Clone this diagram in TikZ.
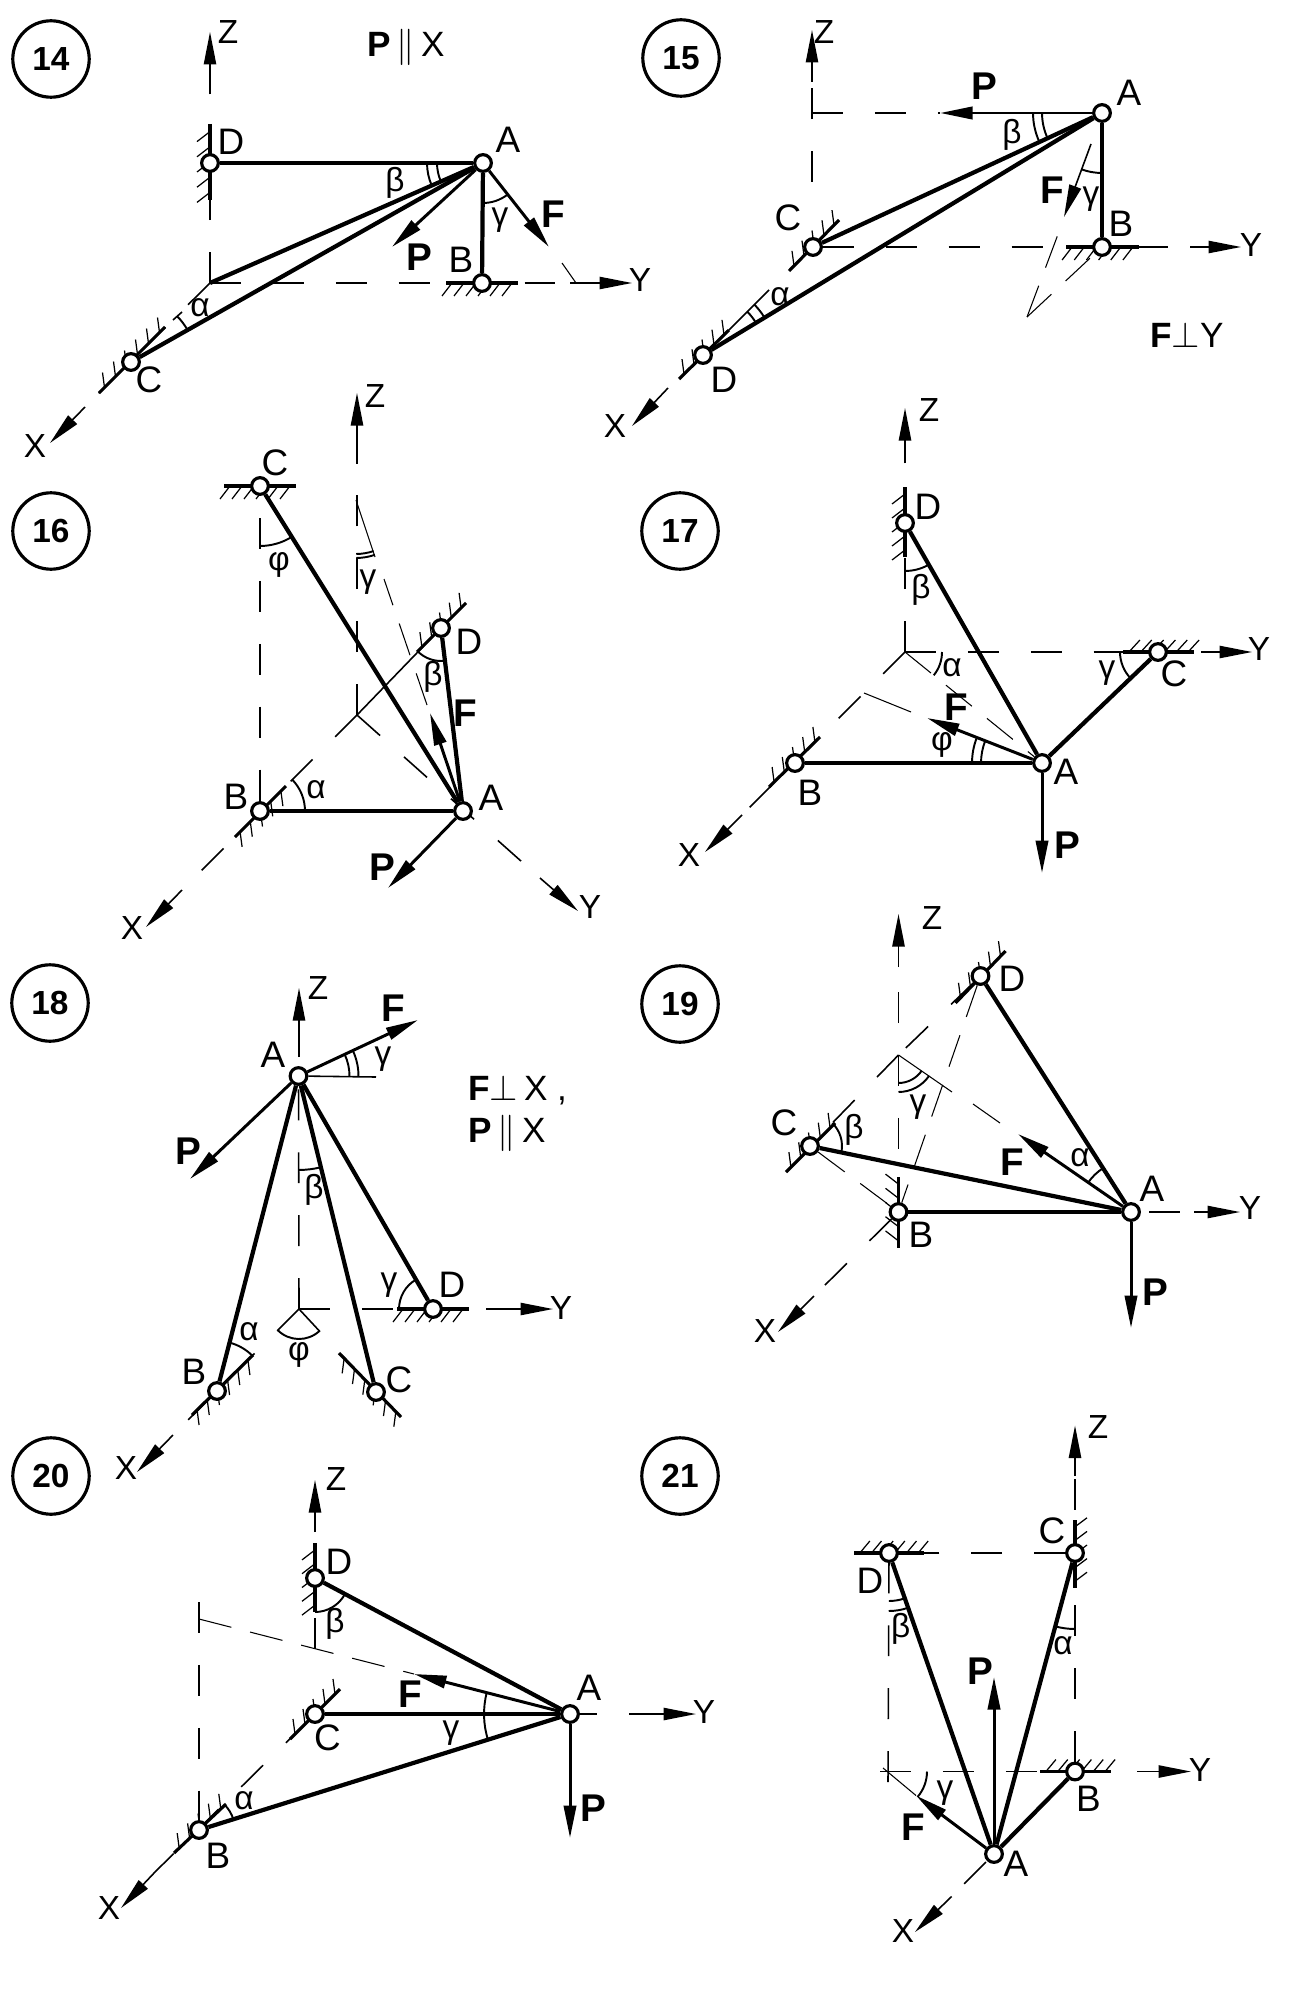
\documentclass[tikz,border=0pt]{standalone}
\usepackage{fontspec}
\setmainfont{Liberation Sans}
\usetikzlibrary{arrows.meta, angles, calc, backgrounds}

% wall at a node: from-offset, to-offset, tick vector, number of ticks
\newcommand{\wallat}[5]{%
  \draw[wall] ($(#1)+(#2)$) coordinate (wa) -- ($(#1)+(#3)$) coordinate (wb);
  \foreach \t in {1,...,#5} {
    \pgfmathsetmacro{\tpos}{(\t-0.5)/#5}
    \draw[tick] ($(wa)!\tpos!(wb)$) -- ++(#4);
  }
}

\begin{document}
\begin{tikzpicture}[
    x=0.02cm, y=-0.02cm,
    num/.style={draw, circle, line width=1.8pt, minimum size=43.5pt, inner sep=0pt, font=\fontsize{19}{19}\selectfont\bfseries},
    pin/.style={draw, circle, fill=white, line width=1.8pt, minimum size=9.5pt, inner sep=0pt},
    strut/.style={line width=2.4pt},
    force/.style={line width=1.7pt, -{Triangle[length=18.5pt,width=7pt]}},
    axistip/.style={line width=0.9pt, -{Triangle[length=18.5pt,width=7pt]}},
    axisdash/.style={line width=0.9pt, dash pattern=on 17.6pt off 18.2pt},
    axisthin/.style={line width=0.9pt},
    helper/.style={line width=0.6pt},
    helperdash/.style={line width=0.6pt, dash pattern=on 19pt off 11pt},
    wall/.style={line width=1.8pt},
    tick/.style={line width=0.7pt},
    ang/.style={draw, line width=1.1pt},
    ar/.style={angle radius=#1*0.569pt},
    lab/.style={inner sep=0pt, font=\fontsize{21}{21}\selectfont},
    axl/.style={inner sep=0pt, font=\fontsize{19}{19}\selectfont},
    frc/.style={inner sep=0pt, font=\fontsize{22}{22}\selectfont\bfseries},
    grk/.style={inner sep=0pt, font=\fontsize{19}{19}\selectfont},
    note/.style={inner sep=0pt, anchor=west, font=\fontsize{20}{20}\selectfont}
]
\useasboundingbox (0,0) rectangle (1297,2000);

% Panel 14
\node[num] (n14) at (51,59) {14};
\node[pin] (a14) at (483,163) {};
\node[pin] (b14) at (482,283) {};
\node[pin] (c14) at (131,362) {};
\node[pin] (d14) at (210,163) {};
\coordinate (o14) at (210,283);
\coordinate (zs14) at (210,93);
\coordinate (zt14) at (210,32);
\coordinate (ys14) at (570,283);
\coordinate (yt14) at (632,283);
\coordinate (xs14) at (85,407);
\coordinate (xt14) at (50,443);
\coordinate (pt14) at (392,247);
\coordinate (ft14) at (549,247);
\coordinate (fe14) at (562,263);
\coordinate (fp14) at (576,283);
\coordinate (ba14) at (173,320);
\coordinate (bb14) at (182,312);
\begin{scope}[on background layer]
\draw[axisdash] (o14) -- (zs14);
\draw[axisdash] (o14) -- (ys14);
\draw[axisdash] (o14) -- (xs14);
\wallat{d14}{0,-39}{0,37}{-13,10}{5}
\wallat{b14}{-36,0}{36,0}{-10,13}{6}
\wallat{c14}{-32,31}{34,-35}{-2,-15}{6}
\end{scope}
\draw[axistip] (zs14) -- (zt14);
\draw[axistip] (ys14) -- (yt14);
\draw[axistip] (xs14) -- (xt14);
\draw[strut] (a14) -- (d14);
\draw[strut] (a14) -- (b14);
\draw[strut] (a14) -- (o14);
\draw[strut] (a14) -- (c14);
\draw[force] (a14) -- (pt14);
\draw[force] (a14) -- (ft14);
\draw[helper] (fe14) -- (fp14);
\draw[axisthin] (ba14) -- (bb14);
\pic[ang, ar=46] {angle=d14--a14--o14};
\pic[ang, ar=56] {angle=d14--a14--o14};
\pic[ang, ar=40] {angle=b14--a14--ft14};
\pic[ang, ar=65] {angle=a14--c14--o14};
\node[axl] (lz14) at (228,32) {Z};
\node[axl] (ly14) at (640,280) {Y};
\node[axl] (lx14) at (35,446) {X};
\node[lab] (la14) at (508,140) {A};
\node[lab] (lb14) at (461,260) {B};
\node[lab] (lc14) at (149,380) {C};
\node[lab] (ld14) at (231,142) {D};
\node[frc] (lp14) at (419,257) {P};
\node[frc] (lf14) at (553,214) {F};
\node[grk] (lalpha14) at (200,308) {α};
\node[grk] (lbeta14) at (395,183) {β};
\node[grk] (lgamma14) at (500,220) {γ};
\node[note] (note14) at (367,47) {\textbf{P}$\,\parallel\,$X};

% Panel 15
\node[num] (n15) at (681,58) {15};
\node[pin] (a15) at (1102,113) {};
\node[pin] (b15) at (1102,247) {};
\node[pin] (c15) at (813,247) {};
\node[pin] (d15) at (703,355) {};
\coordinate (zb15) at (812,182);
\coordinate (zs15) at (812,82);
\coordinate (zt15) at (812,30);
\coordinate (q15) at (812,113);
\coordinate (ys15) at (1190,247);
\coordinate (yt15) at (1241,247);
\coordinate (xs15) at (668,388);
\coordinate (xt15) at (632,426);
\coordinate (pt15) at (940,113);
\coordinate (fs15) at (1091,144);
\coordinate (ft15) at (1064,217);
\coordinate (fe15) at (1060,229);
\coordinate (g15) at (1027,317);
\coordinate (ba15) at (729,330);
\coordinate (bb15) at (769,290);
\begin{scope}[on background layer]
\draw[axisdash] (zb15) -- (zs15);
\draw[axisdash] (q15) -- (pt15);
\draw[axisdash] (c15) -- (ys15);
\draw[axisthin] (ba15) -- (bb15);
\wallat{b15}{-36,0}{37,0}{-10,13}{6}
\wallat{c15}{-24,24}{26,-27}{-2,-15}{5}
\wallat{d15}{-24,24}{26,-25}{-2,-15}{5}
\draw[helperdash] (g15) -- (fe15);
\draw[helperdash] (g15) -- (b15);
\end{scope}
\draw[axistip] (zs15) -- (zt15);
\draw[axistip] (ys15) -- (yt15);
\draw[axistip] (xs15) -- (xt15);
\draw[strut] (a15) -- (b15);
\draw[strut] (a15) -- (c15);
\draw[strut] (a15) -- (d15);
\draw[force] (a15) -- (pt15);
\draw[axistip] (fs15) -- (ft15);
\pic[ang, ar=60] {angle=pt15--a15--c15};
\pic[ang, ar=69] {angle=pt15--a15--c15};
\pic[ang, ar=60] {angle=fe15--a15--b15};
\pic[ang, ar=62] {angle=a15--d15--c15};
\pic[ang, ar=72] {angle=a15--d15--c15};
\node[axl] (lz15) at (824,32) {Z};
\node[axl] (ly15) at (1251,245) {Y};
\node[axl] (lx15) at (615,426) {X};
\node[lab] (la15) at (1129,93) {A};
\node[lab] (lb15) at (1121,224) {B};
\node[lab] (lc15) at (788,218) {C};
\node[lab] (ld15) at (724,380) {D};
\node[frc] (lp15) at (984,86) {P};
\node[frc] (lf15) at (1052,190) {F};
\node[grk] (lalpha15) at (780,297) {α};
\node[grk] (lbeta15) at (1012,135) {β};
\node[grk] (lgamma15) at (1091,199) {γ};
\node[note] (note15) at (1150,335) {\textbf{F}$\perp$Y};

% Panel 16
\node[num] (n16) at (51,531) {16};
\node[pin] (a16) at (463,811) {};
\node[pin] (b16) at (260,811) {};
\node[pin] (c16) at (260,486) {};
\node[pin] (d16) at (441,628) {};
\coordinate (o16) at (357,715);
\coordinate (zs16) at (357,463);
\coordinate (zt16) at (357,393);
\coordinate (ys16) at (540,878);
\coordinate (yt16) at (578,911);
\coordinate (xs16) at (182,890);
\coordinate (xt16) at (146,927);
\coordinate (cd16) at (260,518);
\coordinate (g16) at (356,500);
\coordinate (gf16) at (375,557);
\coordinate (gh16) at (384,579);
\coordinate (ge16) at (427,705);
\coordinate (pt16) at (388,888);
\coordinate (ft16) at (430,713);
\begin{scope}[on background layer]
\draw[axisdash] (o16) -- (zs16);
\draw[axisdash] (o16) -- (ys16);
\draw[axisdash] (o16) -- (xs16);
\draw[axisdash] (cd16) -- (b16);
\draw[axisthin] (o16) -- (d16);
\wallat{c16}{-36,0}{36,0}{-10,13}{6}
\wallat{b16}{-25,26}{26,-25}{2,15}{5}
\wallat{d16}{-24,24}{25,-25}{-2,-15}{5}
\draw[helper] (g16) -- (gf16);
\draw[helperdash] (ge16) -- (gh16);
\end{scope}
\draw[axistip] (zs16) -- (zt16);
\draw[axistip] (ys16) -- (yt16);
\draw[axistip] (xs16) -- (xt16);
\draw[strut] (a16) -- (b16);
\draw[strut] (a16) -- (c16);
\draw[strut] (a16) -- (d16);
\draw[force] (a16) -- (pt16);
\draw[force] (a16) -- (ft16);
\pic[ang, ar=60] {angle=b16--c16--a16};
\pic[ang, ar=33] {angle=o16--d16--a16};
\pic[ang, ar=45] {angle=a16--b16--o16};
\pic[ang, ar=54] {angle=o16--g16--a16};
\pic[ang, ar=58] {angle=o16--g16--a16};
\node[axl] (lz16) at (375,396) {Z};
\node[axl] (ly16) at (590,907) {Y};
\node[axl] (lx16) at (132,928) {X};
\node[lab] (la16) at (491,798) {A};
\node[lab] (lb16) at (236,797) {B};
\node[lab] (lc16) at (275,463) {C};
\node[lab] (ld16) at (469,642) {D};
\node[frc] (lp16) at (382,867) {P};
\node[frc] (lf16) at (465,713) {F};
\node[grk] (lalpha16) at (316,790) {α};
\node[grk] (lbeta16) at (433,677) {β};
\node[grk] (lgamma16) at (368,582) {γ};
\node[grk] (lphi16) at (279,565) {φ};

% Panel 17
\node[num] (n17) at (680,531) {17};
\node[pin] (a17) at (1042,763) {};
\node[pin] (b17) at (795,763) {};
\node[pin] (c17) at (1158,652) {};
\node[pin] (d17) at (905,523) {};
\coordinate (o17) at (905,652);
\coordinate (zs17) at (905,462);
\coordinate (zt17) at (905,408);
\coordinate (ys17) at (1201,652);
\coordinate (yt17) at (1252,652);
\coordinate (xs17) at (742,815);
\coordinate (xt17) at (705,852);
\coordinate (r17) at (864,693);
\coordinate (s17) at (911,712);
\coordinate (pt17) at (1042,873);
\coordinate (ft17) at (927,718);
\begin{scope}[on background layer]
\draw[axisdash] (o17) -- (zs17);
\draw[axisdash] (o17) -- (ys17);
\draw[axisdash] (o17) -- (xs17);
\wallat{d17}{0,-36}{0,34}{-13,10}{5}
\wallat{c17}{-35,0}{36,0}{11,-12}{6}
\wallat{b17}{-26,24}{25,-26}{-2,-15}{5}
\draw[helper] (r17) -- (s17);
\draw[helperdash] (o17) -- (a17);
\end{scope}
\draw[axistip] (zs17) -- (zt17);
\draw[axistip] (ys17) -- (yt17);
\draw[axistip] (xs17) -- (xt17);
\draw[strut] (a17) -- (b17);
\draw[strut] (a17) -- (c17);
\draw[strut] (a17) -- (d17);
\draw[force] (a17) -- (pt17);
\draw[force] (a17) -- (ft17);
\pic[ang, ar=37] {angle=a17--o17--c17};
\pic[ang, ar=48] {angle=o17--d17--a17};
\pic[ang, ar=38] {angle=o17--c17--a17};
\pic[ang, ar=61] {angle=ft17--a17--b17};
\pic[ang, ar=70] {angle=ft17--a17--b17};
\node[axl] (lz17) at (929,410) {Z};
\node[axl] (ly17) at (1259,649) {Y};
\node[axl] (lx17) at (689,855) {X};
\node[lab] (la17) at (1066,772) {A};
\node[lab] (lb17) at (810,793) {B};
\node[lab] (lc17) at (1174,674) {C};
\node[lab] (ld17) at (928,507) {D};
\node[frc] (lp17) at (1067,845) {P};
\node[frc] (lf17) at (956,707) {F};
\node[grk] (lalpha17) at (952,668) {α};
\node[grk] (lbeta17) at (921,590) {β};
\node[grk] (lgamma17) at (1107,673) {γ};
\node[grk] (lphi17) at (942,745) {φ};

% Panel 18
\node[num] (n18) at (50,1003) {18};
\node[pin] (a18) at (298.5,1076) {};
\node[pin] (b18) at (217,1391) {};
\node[pin] (c18) at (376,1392) {};
\node[pin] (d18) at (433,1309) {};
\coordinate (o18) at (299,1309);
\coordinate (zs18) at (299,1057);
\coordinate (zt18) at (299,988);
\coordinate (ys18) at (486,1309);
\coordinate (yt18) at (553,1309);
\coordinate (xs18) at (173,1435);
\coordinate (xt18) at (137,1472);
\coordinate (h18) at (376,1077);
\coordinate (pt18) at (190,1179);
\coordinate (ft18) at (418,1020);
\begin{scope}[on background layer]
\draw[axisdash] (o18) -- (a18);
\draw[axisdash] (o18) -- (ys18);
\draw[axisdash] (o18) -- (xs18);
\draw[axisdash] (o18) -- (c18);
\draw[axisthin] (a18) -- (h18);
\wallat{d18}{-36,0}{36,0}{-10,13}{6}
\wallat{b18}{-25,24}{36,-36}{2,15}{6}
\wallat{c18}{-37,-39}{25,25}{-2,15}{6}
\end{scope}
\draw[axistip] (zs18) -- (zt18);
\draw[axistip] (ys18) -- (yt18);
\draw[axistip] (xs18) -- (xt18);
\draw[strut] (a18) -- (b18);
\draw[strut] (a18) -- (c18);
\draw[strut] (a18) -- (d18);
\draw[force] (a18) -- (pt18);
\draw[force] (a18) -- (ft18);
\pic[ang, ar=30] {angle=b18--o18--c18};
\pic[ang, ar=94] {angle=o18--a18--c18};
\pic[ang, ar=51] {angle=h18--a18--ft18};
\pic[ang, ar=60] {angle=h18--a18--ft18};
\pic[ang, ar=34] {angle=a18--d18--o18};
\pic[ang, ar=50] {angle=o18--b18--a18};
\node[axl] (lz18) at (318,988) {Z};
\node[axl] (ly18) at (561,1308) {Y};
\node[axl] (lx18) at (126,1468) {X};
\node[lab] (la18) at (273,1055) {A};
\node[lab] (lb18) at (194,1372) {B};
\node[lab] (lc18) at (399,1380) {C};
\node[lab] (ld18) at (452,1285) {D};
\node[frc] (lp18) at (188,1151) {P};
\node[frc] (lf18) at (393,1008) {F};
\node[grk] (lalpha18) at (249,1332) {α};
\node[grk] (lbeta18) at (314,1190) {β};
\node[grk] (lgamma18) at (383,1059) {γ};
\node[grk] (lgammb18) at (389,1285) {γ};
\node[grk] (lphi18) at (299,1355) {φ};
\node[note] (note18) at (468,1090) {\textbf{F}$\perp$\,X ,};
\node[note] (noteb18) at (468,1133) {\textbf{P}$\,\parallel\,$X};

% Panel 19
\node[num] (n19) at (680,1004) {19};
\node[pin] (a19) at (1131,1212) {};
\node[pin] (b19) at (898.5,1212) {};
\node[pin] (c19) at (810,1146) {};
\node[pin] (d19) at (980.5,976) {};
\coordinate (o19) at (898.5,1055);
\coordinate (zb19) at (898.5,1023);
\coordinate (zs19) at (898.5,967);
\coordinate (zt19) at (898.5,914);
\coordinate (ya19) at (1149,1212);
\coordinate (ys19) at (1194,1212);
\coordinate (yt19) at (1240,1212);
\coordinate (xs19) at (814,1296);
\coordinate (xt19) at (778,1332);
\coordinate (u19) at (952,1092);
\coordinate (v19) at (973,1104);
\coordinate (w19) at (1000,1123);
\coordinate (pt19) at (1131,1328);
\coordinate (ft19) at (1018,1134);
\begin{scope}[on background layer]
\draw[axisdash] (zb19) -- (zs19);
\draw[axisdash] (o19) -- (b19);
\draw[axisdash] (o19) -- (c19);
\draw[axisdash] (d19) -- (o19);
\draw[axisdash] (b19) -- (xs19);
\draw[axisdash] (ya19) -- (ys19);
\draw[helper] (o19) -- (u19);
\draw[helper] (v19) -- (w19);
\draw[helperdash] (c19) -- (b19);
\draw[helperdash] (d19) -- (b19);
\wallat{b19}{0,-35}{0,36}{-13,-10}{5}
\wallat{c19}{-24,26}{25,-23}{-2,-15}{5}
\wallat{d19}{-25,27}{25,-25}{-2,-15}{5}
\end{scope}
\draw[axistip] (zs19) -- (zt19);
\draw[axistip] (ys19) -- (yt19);
\draw[axistip] (xs19) -- (xt19);
\draw[strut] (a19) -- (b19);
\draw[strut] (a19) -- (c19);
\draw[strut] (a19) -- (d19);
\draw[force] (a19) -- (pt19);
\draw[force] (a19) -- (ft19);
\pic[ang, ar=28] {angle=b19--o19--a19};
\pic[ang, ar=37] {angle=b19--o19--a19};
\pic[ang, ar=32] {angle=a19--c19--o19};
\pic[ang, ar=52] {angle=d19--a19--ft19};
\node[axl] (lz19) at (932,918) {Z};
\node[axl] (ly19) at (1250,1208) {Y};
\node[axl] (lx19) at (765,1331) {X};
\node[lab] (la19) at (1152,1189) {A};
\node[lab] (lb19) at (921,1235) {B};
\node[lab] (lc19) at (784,1123) {C};
\node[lab] (ld19) at (1012,979) {D};
\node[frc] (lp19) at (1155,1292) {P};
\node[frc] (lf19) at (1012,1162) {F};
\node[grk] (lalpha19) at (1080,1158) {α};
\node[grk] (lbeta19) at (854,1130) {β};
\node[grk] (lgamma19) at (918,1107) {γ};

% Panel 20
\node[num] (n20) at (51,1476) {20};
\node[pin] (a20) at (570,1714) {};
\node[pin] (b20) at (199,1830) {};
\node[pin] (c20) at (315,1714) {};
\node[pin] (d20) at (315,1578) {};
\coordinate (q20) at (315,1649);
\coordinate (zs20) at (315,1532);
\coordinate (zt20) at (315,1480);
\coordinate (ya20) at (597,1714);
\coordinate (ys20) at (629,1714);
\coordinate (yt20) at (696,1714);
\coordinate (xs20) at (155,1872);
\coordinate (xt20) at (121,1908);
\coordinate (r20) at (199,1619);
\coordinate (rb20) at (199,1602);
\coordinate (pt20) at (570,1838);
\coordinate (ft20) at (414,1674);
\begin{scope}[on background layer]
\draw[axisdash] (q20) -- (d20);
\draw[axisdash] (rb20) -- (b20);
\draw[axisdash] (c20) -- (xs20);
\draw[axisthin] (a20) -- (ya20);
\draw[helperdash] (r20) -- (ft20);
\wallat{d20}{0,-35}{0,34}{-13,10}{5}
\wallat{c20}{-25,25}{25,-25}{-2,-15}{5}
\wallat{b20}{-25,23}{27,-26}{-2,-15}{5}
\end{scope}
\draw[axistip] (zs20) -- (zt20);
\draw[axistip] (ys20) -- (yt20);
\draw[axistip] (xs20) -- (xt20);
\draw[strut] (a20) -- (b20);
\draw[strut] (a20) -- (c20);
\draw[strut] (a20) -- (d20);
\draw[force] (a20) -- (pt20);
\draw[force] (a20) -- (ft20);
\pic[ang, ar=86] {angle=ft20--a20--b20};
\pic[ang, ar=34] {angle=c20--d20--a20};
\pic[ang, ar=36] {angle=a20--b20--c20};
\node[axl] (lz20) at (336,1479) {Z};
\node[axl] (ly20) at (704,1712) {Y};
\node[axl] (lx20) at (109,1908) {X};
\node[lab] (la20) at (589,1688) {A};
\node[lab] (lb20) at (218,1856) {B};
\node[lab] (lc20) at (327.5,1738) {C};
\node[lab] (ld20) at (339,1562) {D};
\node[frc] (lp20) at (593,1808) {P};
\node[frc] (lf20) at (410,1694.5) {F};
\node[grk] (lalpha20) at (244,1801) {α};
\node[grk] (lbeta20) at (335,1623.5) {β};
\node[grk] (lgamma20) at (451,1733) {γ};

% Panel 21
\node[num] (n21) at (680,1476) {21};
\node[pin] (a21) at (994,1854) {};
\node[pin] (b21) at (1075,1771.5) {};
\node[pin] (c21) at (1075,1553) {};
\node[pin] (d21) at (889,1553) {};
\coordinate (o21) at (888,1771.5);
\coordinate (v21) at (888,1782);
\coordinate (u21) at (880,1771.5);
\coordinate (w21) at (883,1768);
\coordinate (zs21) at (1075,1476);
\coordinate (zt21) at (1075,1425.5);
\coordinate (ys21) at (1137,1771.5);
\coordinate (yt21) at (1191,1771.5);
\coordinate (xq21) at (986,1862);
\coordinate (xs21) at (951.6,1896.5);
\coordinate (xt21) at (915,1932);
\coordinate (pt21) at (994,1677);
\coordinate (ft21) at (916,1795.5);
\begin{scope}[on background layer]
\draw[axisdash] (b21) -- (zs21);
\draw[axisdash] (c21) -- (d21);
\draw[axisdash] (v21) -- (d21);
\draw[axisdash] (u21) -- (b21);
\draw[axisdash] (xq21) -- (xs21);
\draw[helper] (w21) -- (ft21);
\wallat{c21}{0,-33}{0,35}{12,-9}{5}
\wallat{d21}{-35,0}{35,0}{10,-12}{6}
\wallat{b21}{-35,0}{36,0}{10,-12}{6}
\end{scope}
\draw[axistip] (zs21) -- (zt21);
\draw[axistip] (ys21) -- (yt21);
\draw[axistip] (xs21) -- (xt21);
\draw[strut] (a21) -- (b21);
\draw[strut] (a21) -- (c21);
\draw[strut] (a21) -- (d21);
\draw[force] (a21) -- (pt21);
\draw[force] (a21) -- (ft21);
\pic[ang, ar=39] {angle=ft21--o21--b21};
\pic[ang, ar=48] {angle=o21--d21--a21};
\pic[ang, ar=58] {angle=o21--d21--a21};
\pic[ang, ar=76] {angle=a21--c21--b21};
\node[axl] (lz21) at (1098,1427) {Z};
\node[axl] (ly21) at (1200,1770) {Y};
\node[axl] (lx21) at (903,1930.5) {X};
\node[lab] (la21) at (1016,1864) {A};
\node[lab] (lb21) at (1088.5,1799) {B};
\node[lab] (lc21) at (1052,1531) {C};
\node[lab] (ld21) at (870,1581) {D};
\node[frc] (lp21) at (980.5,1671.6) {P};
\node[frc] (lf21) at (913.6,1827) {F};
\node[grk] (lalpha21) at (1063,1646) {α};
\node[grk] (lbeta21) at (900.6,1629) {β};
\node[grk] (lgamma21) at (945,1793) {γ};

\end{tikzpicture}
\end{document}
